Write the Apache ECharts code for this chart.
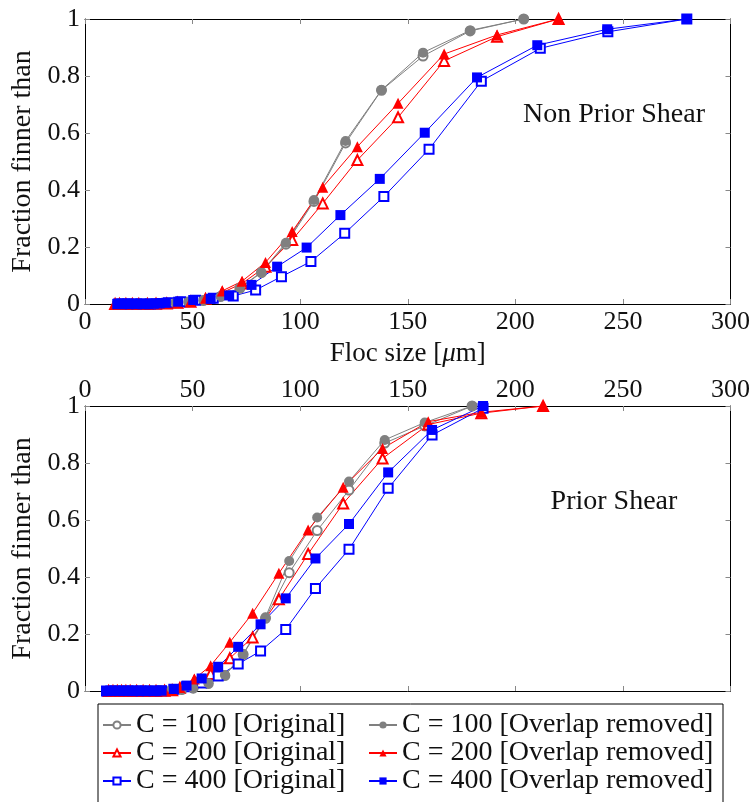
<!DOCTYPE html>
<html>
<head>
<meta charset="utf-8">
<script src="https://cdn.jsdelivr.net/npm/echarts@6/dist/echarts.min.js"></script>
<style>
  html, body { margin: 0; padding: 0; background: #fff; }
  #chart { width: 753px; height: 802px; }
</style>
</head>
<body>
<div id="chart"></div>
<script>
// names used by both panels
const names = [
  'C = 100 [Original]', 'C = 100 [Overlap removed]',
  'C = 200 [Original]', 'C = 200 [Overlap removed]',
  'C = 400 [Original]', 'C = 400 [Overlap removed]'
];
const xTicks = [0, 50, 100, 150, 200, 250, 300];

// top panel: Non Prior Shear
const topX100 = [15, 18, 21, 24, 28, 32, 37, 42, 48, 55, 63, 72, 82, 93.4, 106.4, 121.1, 137.8, 157.1, 179, 203.9];
const topY100o = [0, 0, 0, 0, 0, 0.001, 0.002, 0.004, 0.007, 0.012, 0.026, 0.055, 0.11, 0.21, 0.36, 0.565, 0.75, 0.87, 0.958, 1];
const topY100r = [0, 0, 0, 0, 0, 0.001, 0.002, 0.004, 0.007, 0.013, 0.027, 0.057, 0.112, 0.215, 0.365, 0.572, 0.751, 0.882, 0.96, 1];

const topX200 = [14, 16, 19, 22, 25, 29, 33, 38, 43, 49, 56, 63.8, 73, 83.9, 96.3, 110.5, 126.6, 145.5, 166.9, 191.5, 220.1];
const topY200o = [0, 0, 0, 0, 0, 0, 0.001, 0.002, 0.004, 0.008, 0.018, 0.04, 0.072, 0.131, 0.225, 0.353, 0.505, 0.655, 0.853, 0.938, 1];
const topY200r = [0, 0, 0, 0, 0, 0, 0.001, 0.002, 0.004, 0.009, 0.02, 0.046, 0.08, 0.146, 0.254, 0.41, 0.552, 0.704, 0.877, 0.944, 1];

const topX400o = [15.5, 17, 18.5, 20, 22, 24, 26, 28, 30.5, 33, 35.7, 38.7, 44.5, 51.4, 59.6, 68.9, 79.3, 91.3, 105, 120.7, 138.9, 159.9, 184.2, 211.6, 243, 279.7];
const topY400o = [0, 0, 0, 0, 0, 0, 0, 0, 0, 0.001, 0.002, 0.004, 0.008, 0.013, 0.02, 0.028, 0.049, 0.096, 0.149, 0.248, 0.377, 0.543, 0.782, 0.897, 0.955, 1];
const topX400r = [15, 16.5, 18, 19.5, 21, 23, 25, 27, 29.5, 32, 34.7, 37.6, 43.3, 50.3, 58.4, 67, 77.4, 89.3, 103, 118.7, 137, 157.9, 182.2, 210.2, 242.7, 279.7];
const topY400r = [0, 0, 0, 0, 0, 0, 0, 0, 0, 0.001, 0.002, 0.004, 0.008, 0.014, 0.018, 0.03, 0.067, 0.131, 0.198, 0.312, 0.439, 0.601, 0.795, 0.908, 0.964, 1];

// bottom panel: Prior Shear
const botX100 = [12, 14, 16, 18, 20, 22, 25, 28, 31, 35, 40, 45, 50.3, 57.3, 65, 73.5, 83.9, 94.9, 107.9, 122.7, 139.3, 157.9, 179.9];
const botY100o = [0, 0, 0, 0, 0, 0, 0, 0, 0, 0.001, 0.002, 0.005, 0.01, 0.026, 0.054, 0.128, 0.255, 0.415, 0.563, 0.705, 0.87, 0.93, 1];
const botY100r = [0, 0, 0, 0, 0, 0, 0, 0, 0, 0.001, 0.002, 0.005, 0.01, 0.027, 0.056, 0.13, 0.259, 0.456, 0.609, 0.735, 0.881, 0.942, 1];

const botX200 = [11, 13, 15, 17, 19, 21, 24, 27, 30, 33, 37, 40.5, 44.1, 50.8, 58.4, 67.3, 77.9, 90.1, 103.7, 120, 138.3, 159.5, 184.2, 212.9];
const botY200o = [0, 0, 0, 0, 0, 0, 0, 0, 0, 0, 0.001, 0.003, 0.011, 0.035, 0.06, 0.115, 0.188, 0.322, 0.481, 0.658, 0.816, 0.935, 0.975, 1];
const botY200r = [0, 0, 0, 0, 0, 0, 0, 0, 0, 0, 0.001, 0.003, 0.012, 0.042, 0.089, 0.171, 0.273, 0.413, 0.565, 0.715, 0.851, 0.945, 0.978, 1];

const botX400 = [10, 12, 14, 16, 18, 20, 22, 24, 26, 28, 30.5, 33, 35.6, 41.3, 47.2, 54.2, 61.9, 71.2, 81.6, 93.3, 107.1, 122.7, 140.9, 161.3, 185];
const botY400o = [0, 0, 0, 0, 0, 0, 0, 0, 0, 0, 0, 0, 0.001, 0.006, 0.015, 0.028, 0.053, 0.095, 0.14, 0.216, 0.36, 0.497, 0.711, 0.898, 0.992];
const botY400r = [0, 0, 0, 0, 0, 0, 0, 0, 0, 0, 0, 0, 0.001, 0.007, 0.019, 0.044, 0.085, 0.155, 0.234, 0.325, 0.465, 0.586, 0.767, 0.916, 1];

const GRAY = '#808080', RED = '#ff0000', BLUE = '#0000ff';
const FONT = 'Liberation Serif';

function line(name, xs, ys, color, symbol, size, axis) {
    return {
        name: name,
        type: 'line',
        xAxisIndex: axis,
        yAxisIndex: axis,
        data: xs.map((x, i) => [x, ys[i]]),
        symbol: symbol,
        symbolSize: size,
        showAllSymbol: true,
        color: color,
        lineStyle: { color: color, width: 1 },
        itemStyle: { color: color, borderWidth: 1 },
        animation: false
    };
}

function xAxis(grid, position, labels) {
    return {
        type: 'value', gridIndex: grid, position: position,
        min: 0, max: 300, interval: 50,
        axisLine: { show: true, onZero: false, lineStyle: { color: '#000', width: 1 } },
        axisTick: { show: true, inside: true, length: 5, lineStyle: { color: '#888' } },
        axisLabel: { show: labels, margin: position === 'top' ? 3 : 5, fontFamily: FONT, fontSize: 26, color: '#111' },
        splitLine: { show: false }
    };
}

function yAxis(grid, position, labels) {
    return {
        type: 'value', gridIndex: grid, position: position,
        min: 0, max: 1, interval: 0.2,
        name: labels ? 'Fraction finner than' : '',
        nameLocation: 'middle', nameGap: 46,
        nameTextStyle: { fontFamily: FONT, fontSize: 28, color: '#111' },
        axisLine: { show: true, onZero: false, lineStyle: { color: '#000', width: 1 } },
        axisTick: { show: true, inside: true, length: 5, lineStyle: { color: '#888' } },
        axisLabel: { show: labels, margin: 5, fontFamily: FONT, fontSize: 26, color: '#111' },
        splitLine: { show: false }
    };
}

const xs = [xAxis(0, 'bottom', true), xAxis(0, 'top', false), xAxis(1, 'top', true), xAxis(1, 'bottom', false)];
xs[0].name = '{n|Floc size [}{i|μ}{n|m]}';
xs[0].nameLocation = 'middle';
xs[0].nameGap = 36;
xs[0].nameTextStyle = {
    rich: {
        n: { fontFamily: FONT, fontSize: 27, color: '#111' },
        i: { fontFamily: FONT, fontSize: 27, fontStyle: 'italic', color: '#111' }
    }
};
const ys = [yAxis(0, 'left', true), yAxis(0, 'right', false), yAxis(1, 'left', true), yAxis(1, 'right', false)];

const series = [
    line(names[0], topX100, topY100o, GRAY, 'emptyCircle', 9, 0),
    line(names[2], topX200, topY200o, RED, 'emptyTriangle', 10, 0),
    line(names[4], topX400o, topY400o, BLUE, 'emptyRect', 9, 0),
    line(names[1], topX100, topY100r, GRAY, 'circle', 10, 0),
    line(names[3], topX200, topY200r, RED, 'triangle', 11, 0),
    line(names[5], topX400r, topY400r, BLUE, 'rect', 10, 0),
    line(names[0], botX100, botY100o, GRAY, 'emptyCircle', 9, 2),
    line(names[2], botX200, botY200o, RED, 'emptyTriangle', 10, 2),
    line(names[4], botX400, botY400o, BLUE, 'emptyRect', 9, 2),
    line(names[1], botX100, botY100r, GRAY, 'circle', 10, 2),
    line(names[3], botX200, botY200r, RED, 'triangle', 11, 2),
    line(names[5], botX400, botY400r, BLUE, 'rect', 10, 2)
];

const legendBase = {
    orient: 'vertical', top: 711, itemGap: 0, padding: 0,
    height: 90,
    itemWidth: 28, itemHeight: 9,
    selectedMode: false,
    textStyle: { fontFamily: FONT, fontSize: 28, lineHeight: 28, color: '#111' }
};

const chart = echarts.init(document.getElementById('chart'), null, { renderer: 'canvas' });
chart.setOption({
    backgroundColor: '#fff',
    animation: false,
    grid: [
        { left: 85, top: 19, width: 646, height: 285 },
        { left: 85, top: 406, width: 646, height: 285 }
    ],
    xAxis: xs,
    yAxis: ys,
    legend: [
        Object.assign({}, legendBase, { left: 102, data: [names[0], names[2], names[4]] }),
        Object.assign({}, legendBase, { left: 368, data: [names[1], names[3], names[5]] })
    ],
    graphic: [
        { type: 'rect', shape: { x: 98, y: 704, width: 625, height: 120 },
          style: { fill: 'none', stroke: '#000', lineWidth: 1 } },
        { type: 'text', x: 614, y: 115,
          style: { text: 'Non Prior Shear', fontFamily: FONT, fontSize: 28, fill: '#111', align: 'center', verticalAlign: 'middle' } },
        { type: 'text', x: 614, y: 502,
          style: { text: 'Prior Shear', fontFamily: FONT, fontSize: 28, fill: '#111', align: 'center', verticalAlign: 'middle' } }
    ],
    series: series
});
</script>
</body>
</html>
